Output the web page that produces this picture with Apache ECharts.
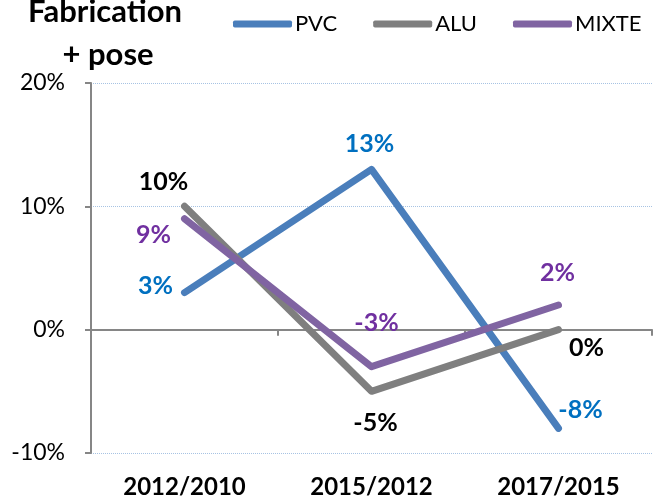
<!DOCTYPE html>
<html>
<head>
<meta charset="utf-8">
<script src="https://cdn.jsdelivr.net/npm/echarts@6/dist/echarts.min.js"></script>
<style>
html,body{margin:0;padding:0;background:#fff;}
#chart{width:660px;height:500px;}
</style>
</head>
<body>
<div id="chart"></div>
<script>
var categories = ['2012/2010', '2015/2012', '2017/2015'];
var seriesNames = ['PVC', 'ALU', 'MIXTE'];
var pvcValues = [3, 13, -8];
var aluValues = [10, -5, 0];
var mixteValues = [9, -3, 2];
var yTicks = [-10, 0, 10, 20];
var titleLines = ['Fabrication', '+ pose'];

var FONT = 'Lato, Liberation Sans, Arial, sans-serif';
var lineColors = ['#4A7EBB', '#7F7F7F', '#8064A2'];
var labelColors = ['#0070C0', '#000000', '#7030A0'];
var labelOffsets = [
  [[-29, -7], [-2, -25], [22, -18]],
  [[-21, -24], [4, 32], [28, 18]],
  [[-31, 16], [5, -44], [-1, -32]]
];
var allValues = [pvcValues, aluValues, mixteValues];

function buildSeries(i) {
  return {
    name: seriesNames[i],
    type: 'line',
    xAxisIndex: 0,
    data: allValues[i].map(function (v, j) {
      return {
        value: v,
        label: {
          show: true,
          position: 'inside',
          offset: labelOffsets[i][j],
          formatter: function (p) { return p.value + '%'; },
          color: labelColors[i],
          fontFamily: FONT,
          fontWeight: 'bold',
          fontSize: 25
        }
      };
    }),
    symbol: 'circle',
    symbolSize: 1,
    showSymbol: true,
    itemStyle: { color: lineColors[i] },
    lineStyle: { color: lineColors[i], width: 7, cap: 'round', join: 'round' },
    emphasis: { disabled: true },
    z: 2 + i
  };
}

var chart = echarts.init(document.getElementById('chart'), null, { renderer: 'canvas' });
chart.setOption({
  animation: false,
  backgroundColor: '#ffffff',
  textStyle: { fontFamily: FONT },
  grid: { left: 91, right: 8, top: 83, bottom: 47, containLabel: false },
  graphic: [
    { type: 'text', x: 105, y: 12, style: { text: titleLines[0], font: 'bold 31px ' + FONT, fill: '#000', align: 'center', verticalAlign: 'middle' } },
    { type: 'text', x: 108, y: 55, style: { text: titleLines[1], font: 'bold 31px ' + FONT, fill: '#000', align: 'center', verticalAlign: 'middle' } }
  ],
  legend: {
    data: seriesNames.map(function (n, i) { return { name: n, icon: 'roundRect', itemStyle: { color: lineColors[i] } }; }),
    left: 233,
    top: 13,
    padding: 0,
    itemWidth: 59,
    itemHeight: 7,
    itemGap: 36,
    selectedMode: false,
    textStyle: { fontFamily: FONT, fontSize: 22, color: '#000', padding: [2, 0, 0, -2] }
  },
  xAxis: [
    {
      type: 'category',
      data: categories,
      position: 'bottom',
      axisLine: { show: false, onZero: false },
      axisTick: { show: false },
      axisLabel: { color: '#000', fontFamily: FONT, fontWeight: 'bold', fontSize: 24, margin: 22 },
      splitLine: { show: false }
    },
    {
      type: 'category',
      data: categories,
      position: 'bottom',
      axisLine: { show: true, onZero: true, lineStyle: { color: '#868686', width: 2 } },
      axisTick: { show: true, inside: false, length: 6, lineStyle: { color: '#868686', width: 2 } },
      axisLabel: { show: false },
      splitLine: { show: false }
    }
  ],
  yAxis: {
    type: 'value',
    min: yTicks[0],
    max: yTicks[yTicks.length - 1],
    interval: 10,
    axisLine: { show: true, lineStyle: { color: '#868686', width: 2 } },
    axisTick: { show: true, length: 6, lineStyle: { color: '#868686', width: 2 } },
    axisLabel: { color: '#000', fontFamily: FONT, fontSize: 23, margin: 26, formatter: '{value}%' },
    splitLine: { show: true, lineStyle: { color: '#A7C3E3', type: 'dotted', width: 1 } }
  },
  series: [buildSeries(0), buildSeries(1), buildSeries(2)]
});
</script>
</body>
</html>
